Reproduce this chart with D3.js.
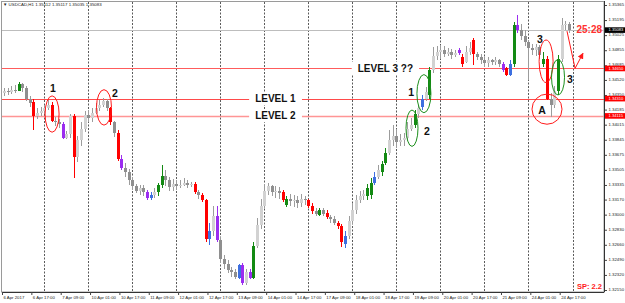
<!DOCTYPE html>
<html lang="en">
<head>
<meta charset="UTF-8">
<title>USDCAD H1</title>
<script src="https://d3js.org/d3.v7.min.js"></script>
<style>
  body { margin: 0; background: #fff; }
  svg { display: block; font-family: "Liberation Sans", Arial, sans-serif; }
  .axis text { font-size: 4.3px; fill: #222; }
  .axis line { stroke: #444; }
  .note { font-weight: bold; font-size: 10.5px; fill: #111; }
  .level-name { font-weight: bold; font-size: 10px; fill: #111; }
</style>
</head>
<body>
<svg id="chart" width="625" height="303"></svg>
<script>
  // ---- data (2-hour candles) ----
  const symbol = "USDCAD,H1";
  const lastBar = ["1.35112", "1.35117", "1.35035", "1.35083"];

  const opens = [
    1.3437, 1.3439, 1.3438, 1.3441, 1.3440, 1.3447, 1.3443, 1.3431, 1.3427, 1.3411,
    1.3415, 1.3417, 1.3420, 1.3424, 1.3406, 1.3404, 1.3402, 1.3387, 1.3391, 1.3411,
    1.3365, 1.3384, 1.3397, 1.3412, 1.3409, 1.3415, 1.3420, 1.3424, 1.3428, 1.3420,
    1.3404, 1.3392, 1.3363, 1.3353, 1.3348, 1.3339, 1.3332, 1.3327, 1.3330, 1.3325,
    1.3319, 1.3322, 1.3325, 1.3333, 1.3344, 1.3339, 1.3331, 1.3335, 1.3332, 1.3334,
    1.3336, 1.3333, 1.3335, 1.3325, 1.3322, 1.3316, 1.3273, 1.3282, 1.3299, 1.3271,
    1.3250, 1.3244, 1.3237, 1.3235, 1.3229, 1.3243, 1.3223, 1.3235, 1.3229, 1.3265,
    1.3288, 1.3310, 1.3327, 1.3332, 1.3325, 1.3327, 1.3326, 1.3311, 1.3318, 1.3315,
    1.3317, 1.3313, 1.3318, 1.3316, 1.3310, 1.3304, 1.3300, 1.3305, 1.3302, 1.3297,
    1.3295, 1.3291, 1.3287, 1.3267, 1.3276, 1.3293, 1.3305, 1.3316, 1.3321, 1.3321,
    1.3322, 1.3336, 1.3343, 1.3348, 1.3358, 1.3370, 1.3384, 1.3389, 1.3382, 1.3384,
    1.3386, 1.3397, 1.3401, 1.3413, 1.3421, 1.3431, 1.3435, 1.3463, 1.3479, 1.3483,
    1.3486, 1.3481, 1.3483, 1.3480, 1.3482, 1.3478, 1.3472, 1.3483, 1.3497, 1.3481,
    1.3478, 1.3474, 1.3471, 1.3474, 1.3472, 1.3474, 1.3470, 1.3465, 1.3458, 1.3470,
    1.3514, 1.3508, 1.3502, 1.3495, 1.3488, 1.3486, 1.3489, 1.3470, 1.3476, 1.3431,
    1.3424, 1.3440, 1.3476, 1.3514, 1.3515
  ];
  const highs = [
    1.3443, 1.3443, 1.3445, 1.3446, 1.3450, 1.3449, 1.3445, 1.3434, 1.3430, 1.3420,
    1.3421, 1.3424, 1.3429, 1.3427, 1.3410, 1.3408, 1.3404, 1.3394, 1.3414, 1.3413,
    1.3389, 1.3404, 1.3417, 1.3418, 1.3420, 1.3426, 1.3429, 1.3432, 1.3431, 1.3422,
    1.3406, 1.3395, 1.3367, 1.3358, 1.3351, 1.3343, 1.3335, 1.3333, 1.3333, 1.3328,
    1.3326, 1.3330, 1.3336, 1.3356, 1.3350, 1.3342, 1.3340, 1.3339, 1.3339, 1.3341,
    1.3339, 1.3337, 1.3337, 1.3328, 1.3324, 1.3318, 1.3291, 1.3310, 1.3310, 1.3275,
    1.3255, 1.3249, 1.3241, 1.3239, 1.3244, 1.3245, 1.3239, 1.3239, 1.3269, 1.3296,
    1.3318, 1.3335, 1.3336, 1.3334, 1.3332, 1.3331, 1.3328, 1.3321, 1.3323, 1.3322,
    1.3321, 1.3323, 1.3321, 1.3318, 1.3313, 1.3307, 1.3307, 1.3307, 1.3305, 1.3300,
    1.3298, 1.3293, 1.3289, 1.3282, 1.3299, 1.3313, 1.3322, 1.3327, 1.3328, 1.3335,
    1.3341, 1.3348, 1.3356, 1.3361, 1.3375, 1.3395, 1.3401, 1.3397, 1.3391, 1.3392,
    1.3404, 1.3409, 1.3418, 1.3424, 1.3435, 1.3444, 1.3467, 1.3489, 1.3490, 1.3491,
    1.3490, 1.3488, 1.3487, 1.3486, 1.3488, 1.3481, 1.3490, 1.3495, 1.3499, 1.3483,
    1.3481, 1.3478, 1.3478, 1.3476, 1.3478, 1.3476, 1.3472, 1.3467, 1.3474, 1.3517,
    1.3525, 1.3515, 1.3508, 1.3497, 1.3493, 1.3493, 1.3491, 1.3483, 1.3479, 1.3437,
    1.3445, 1.3480, 1.3522, 1.3519, 1.3517
  ];
  const lows = [
    1.3434, 1.3435, 1.3436, 1.3437, 1.3439, 1.3438, 1.3428, 1.3422, 1.3395, 1.3408,
    1.3411, 1.3413, 1.3418, 1.3404, 1.3400, 1.3398, 1.3385, 1.3385, 1.3386, 1.3341,
    1.3359, 1.3378, 1.3393, 1.3404, 1.3405, 1.3413, 1.3417, 1.3421, 1.3417, 1.3401,
    1.3388, 1.3361, 1.3350, 1.3343, 1.3334, 1.3328, 1.3324, 1.3322, 1.3321, 1.3317,
    1.3317, 1.3319, 1.3321, 1.3330, 1.3332, 1.3327, 1.3327, 1.3328, 1.3330, 1.3332,
    1.3330, 1.3331, 1.3323, 1.3318, 1.3314, 1.3269, 1.3266, 1.3276, 1.3269, 1.3246,
    1.3239, 1.3234, 1.3230, 1.3227, 1.3227, 1.3221, 1.3221, 1.3227, 1.3227, 1.3262,
    1.3284, 1.3307, 1.3322, 1.3321, 1.3319, 1.3318, 1.3314, 1.3309, 1.3310, 1.3309,
    1.3308, 1.3309, 1.3311, 1.3308, 1.3301, 1.3298, 1.3298, 1.3298, 1.3295, 1.3291,
    1.3288, 1.3284, 1.3263, 1.3262, 1.3273, 1.3290, 1.3301, 1.3313, 1.3317, 1.3317,
    1.3318, 1.3333, 1.3340, 1.3344, 1.3356, 1.3367, 1.3378, 1.3375, 1.3377, 1.3378,
    1.3383, 1.3394, 1.3398, 1.3409, 1.3418, 1.3428, 1.3431, 1.3460, 1.3474, 1.3476,
    1.3478, 1.3479, 1.3476, 1.3478, 1.3480, 1.3466, 1.3471, 1.3480, 1.3469, 1.3474,
    1.3470, 1.3466, 1.3467, 1.3469, 1.3469, 1.3466, 1.3461, 1.3456, 1.3456, 1.3467,
    1.3505, 1.3497, 1.3490, 1.3452, 1.3480, 1.3479, 1.3476, 1.3466, 1.3429, 1.3410,
    1.3420, 1.3435, 1.3472, 1.3508, 1.3505
  ];
  const closes = [
    1.3439, 1.3438, 1.3441, 1.3440, 1.3447, 1.3443, 1.3431, 1.3426, 1.3411, 1.3415,
    1.3417, 1.3420, 1.3424, 1.3406, 1.3404, 1.3402, 1.3387, 1.3391, 1.3411, 1.3365,
    1.3384, 1.3397, 1.3412, 1.3409, 1.3415, 1.3420, 1.3424, 1.3428, 1.3420, 1.3404,
    1.3392, 1.3363, 1.3353, 1.3348, 1.3339, 1.3332, 1.3327, 1.3330, 1.3325, 1.3319,
    1.3322, 1.3325, 1.3333, 1.3344, 1.3339, 1.3331, 1.3335, 1.3332, 1.3334, 1.3336,
    1.3333, 1.3335, 1.3325, 1.3322, 1.3316, 1.3273, 1.3282, 1.3299, 1.3271, 1.3250,
    1.3244, 1.3237, 1.3235, 1.3230, 1.3243, 1.3223, 1.3235, 1.3229, 1.3265, 1.3288,
    1.3310, 1.3327, 1.3332, 1.3325, 1.3327, 1.3324, 1.3316, 1.3318, 1.3315, 1.3317,
    1.3313, 1.3318, 1.3316, 1.3310, 1.3304, 1.3301, 1.3305, 1.3301, 1.3297, 1.3295,
    1.3291, 1.3287, 1.3269, 1.3276, 1.3293, 1.3305, 1.3316, 1.3321, 1.3323, 1.3330,
    1.3336, 1.3343, 1.3350, 1.3357, 1.3370, 1.3384, 1.3389, 1.3382, 1.3384, 1.3386,
    1.3397, 1.3401, 1.3413, 1.3420, 1.3431, 1.3438, 1.3463, 1.3479, 1.3483, 1.3486,
    1.3481, 1.3483, 1.3480, 1.3482, 1.3486, 1.3470, 1.3483, 1.3488, 1.3481, 1.3478,
    1.3474, 1.3471, 1.3474, 1.3472, 1.3474, 1.3470, 1.3463, 1.3458, 1.3470, 1.3514,
    1.3508, 1.3502, 1.3495, 1.3488, 1.3486, 1.3489, 1.3480, 1.3476, 1.3431, 1.3424,
    1.3440, 1.3476, 1.3514, 1.3515, 1.3508
  ];

  // bars flagged by the colour-candle indicator
  const redBars = [8, 13, 19, 29, 31, 52, 54, 55, 76, 83, 84, 88, 91, 92, 125, 128, 137, 148];
  const greenBars = [4, 42, 43, 68, 77, 86, 99, 100, 103, 104, 112, 116, 139, 147, 151];
  const blueBars = [40, 56, 64, 93, 101, 114, 138];
  const purpleBars = [16, 32, 39, 58, 65, 67, 124, 136, 140];

  const timeLabels = [
    "6 Apr 2017", "6 Apr 17:00", "7 Apr 09:00", "10 Apr 01:00", "10 Apr 17:00",
    "11 Apr 09:00", "12 Apr 01:00", "12 Apr 17:00", "13 Apr 09:00", "14 Apr 01:00",
    "14 Apr 17:00", "17 Apr 09:00", "18 Apr 01:00", "18 Apr 17:00", "19 Apr 09:00",
    "20 Apr 01:00", "20 Apr 17:00", "21 Apr 09:00", "24 Apr 01:00", "24 Apr 17:00"
  ];
  const priceTicks = [
    1.35365, 1.35195, 1.35025, 1.34855, 1.34685, 1.34520, 1.34350, 1.34185, 1.34015, 1.33845,
    1.33675, 1.33505, 1.33335, 1.33170, 1.33000, 1.32830, 1.32660, 1.32490, 1.32320, 1.32150
  ];

  const levelNames = ["LEVEL 3 ??", "LEVEL 1", "LEVEL 2"];
  const levelPrices = [1.34650, 1.34310, 1.34115];
  const currentPrice = 1.35083;
  const barTimer = "25:28";
  const spread = "SP: 2.2";

  // ---- scales (x in trading hours from 6 Apr 01:00) ----
  const svg = d3.select("#chart");
  const right = 604, bottom = 292;
  const x = d3.scaleLinear().domain([0, 328]).range([2, 603.7]);
  const y = d3.scaleLinear().domain([1.32150, 1.35365]).range([290, 5]);

  const RED = "#ff1a1a", GREEN = "#1d8f1d";
  const tagColor = new Map();
  redBars.forEach(i => tagColor.set(i, "#ff0000"));
  greenBars.forEach(i => tagColor.set(i, "#138a13"));
  blueBars.forEach(i => tagColor.set(i, "#3d6fe0"));
  purpleBars.forEach(i => tagColor.set(i, "#9b2cf0"));

  // frame
  svg.append("rect")
    .attr("x", 1.5).attr("y", 1.5)
    .attr("width", right - 1.5).attr("height", bottom - 1.5)
    .attr("fill", "#fff").attr("stroke", "#9a9a9a");

  // day separators (midnight)
  svg.append("g").selectAll("line")
    .data(d3.range(23, 328, 24))
    .join("line")
      .attr("x1", d => Math.round(x(d)) + 0.5).attr("x2", d => Math.round(x(d)) + 0.5)
      .attr("y1", 2).attr("y2", bottom)
      .attr("stroke", "#5a5a5a").attr("stroke-width", 1)
      .attr("stroke-dasharray", "2,1.5");

  // current price line
  svg.append("line")
    .attr("x1", 2).attr("x2", right)
    .attr("y1", Math.round(y(currentPrice)) + 0.5).attr("y2", Math.round(y(currentPrice)) + 0.5)
    .attr("stroke", "#bdbdbd");

  // horizontal levels
  const levelStyle = [
    { color: "#ff5c5c", width: 1, hour: 209 },
    { color: "#ff4a4a", width: 1, hour: 149 },
    { color: "#ff9595", width: 1.6, hour: 149 }
  ];
  const levels = svg.append("g");
  levelNames.forEach((name, k) => {
    const ly = Math.round(y(levelPrices[k])) + 0.5;
    levels.append("line")
      .attr("x1", 2).attr("x2", right).attr("y1", ly).attr("y2", ly)
      .attr("stroke", levelStyle[k].color).attr("stroke-width", levelStyle[k].width);
  });

  // candles
  const bars = closes.map((c, i) => ({
    i, c, o: opens[i], h: highs[i], l: lows[i], hour: 2 * i + 1, tag: tagColor.get(i)
  }));
  const candles = svg.append("g").attr("shape-rendering", "crispEdges");
  candles.selectAll("line")
    .data(bars)
    .join("line")
      .attr("x1", d => Math.round(x(d.hour)) + 0.5).attr("x2", d => Math.round(x(d.hour)) + 0.5)
      .attr("y1", d => y(d.h)).attr("y2", d => y(d.l))
      .attr("stroke", d => d.tag || "#9c9c9c");
  candles.selectAll("rect")
    .data(bars)
    .join("rect")
      .attr("x", d => Math.round(x(d.hour)) - 1)
      .attr("width", 3)
      .attr("y", d => y(Math.max(d.o, d.c)))
      .attr("height", d => Math.max(1, Math.abs(y(d.o) - y(d.c))))
      .attr("fill", d => d.tag || (d.c >= d.o ? "#d2d2d2" : "#8f8f8f"));

  // level names on white patches
  levelNames.forEach((name, k) => {
    const t = levels.append("text")
      .attr("class", "level-name")
      .attr("x", x(levelStyle[k].hour)).attr("y", y(levelPrices[k]))
      .attr("text-anchor", "middle").attr("dominant-baseline", "central")
      .text(name);
    const b = t.node().getBBox();
    levels.insert("rect", () => t.node())
      .attr("x", b.x - 6).attr("y", b.y - 1)
      .attr("width", b.width + 12).attr("height", b.height + 2)
      .attr("fill", "#fff");
  });

  // annotations
  const ellipses = [
    { hour: 27.3, hi: 1.3434, lo: 1.3393, rx: 7, color: RED },
    { hour: 55.6, hi: 1.3441, lo: 1.3401, rx: 7.5, color: RED },
    { hour: 223.5, hi: 1.3418, lo: 1.3377, rx: 6, color: GREEN },
    { hour: 230, hi: 1.3458, lo: 1.3415, rx: 7, color: GREEN },
    { hour: 296.6, hi: 1.3497, lo: 1.3449, rx: 7, color: RED },
    { hour: 303.1, hi: 1.3475, lo: 1.3435, rx: 6.5, color: GREEN },
    { hour: 297.1, hi: 1.3436, lo: 1.3402, rx: 15, color: RED }
  ];
  svg.append("g").selectAll("ellipse")
    .data(ellipses)
    .join("ellipse")
      .attr("cx", d => x(d.hour))
      .attr("cy", d => (y(d.hi) + y(d.lo)) / 2)
      .attr("rx", d => d.rx)
      .attr("ry", d => (y(d.lo) - y(d.hi)) / 2)
      .attr("fill", "none").attr("stroke", d => d.color).attr("stroke-width", 1);

  const marks = [
    { t: "1", hour: 27.8, p: 1.3443 }, { t: "2", hour: 61.6, p: 1.3437 },
    { t: "1", hour: 223, p: 1.3438 }, { t: "2", hour: 231.7, p: 1.3394 },
    { t: "3", hour: 293.3, p: 1.3498 }, { t: "3", hour: 309.6, p: 1.3453 },
    { t: "A", hour: 294.4, p: 1.3418 }
  ];
  svg.append("g").selectAll("text")
    .data(marks)
    .join("text")
      .attr("class", "note")
      .attr("x", d => x(d.hour)).attr("y", d => y(d.p))
      .attr("text-anchor", "middle").attr("dominant-baseline", "central")
      .text(d => d.t);

  // arrow
  svg.append("defs").append("marker")
    .attr("id", "head").attr("viewBox", "0 0 10 10")
    .attr("refX", 9).attr("refY", 5)
    .attr("markerWidth", 6).attr("markerHeight", 6)
    .attr("orient", "auto")
    .append("path").attr("d", "M0,0 L10,5 L0,10 z").attr("fill", RED);
  const arrowPts = [[308, 1.3507], [312.4, 1.3465], [316.7, 1.3482]];
  svg.append("path")
    .attr("d", d3.line().x(d => x(d[0])).y(d => y(d[1]))(arrowPts))
    .attr("fill", "none").attr("stroke", RED).attr("stroke-width", 1)
    .attr("marker-end", "url(#head)");

  // time axis
  svg.append("g")
    .attr("class", "axis")
    .attr("transform", `translate(0,${bottom})`)
    .call(d3.axisBottom(x)
      .tickValues(timeLabels.map((_, k) => k * 16))
      .tickFormat((d, k) => timeLabels[k])
      .tickSize(3).tickSizeOuter(0))
    .call(g => g.select(".domain").attr("stroke", "#333"))
    .call(g => g.selectAll("text").attr("text-anchor", "start").attr("x", 1).attr("y", 4));

  // price axis
  svg.append("g")
    .attr("class", "axis")
    .attr("transform", `translate(${right},0)`)
    .call(d3.axisRight(y)
      .tickValues(priceTicks)
      .tickFormat(d3.format(".5f"))
      .tickSize(3))
    .call(g => g.select(".domain").remove())
    .call(g => g.selectAll("text").attr("x", 4.5).attr("y", -0.9));
  svg.append("line")
    .attr("x1", right + 0.5).attr("x2", right + 0.5).attr("y1", 1).attr("y2", bottom)
    .attr("stroke", "#333");

  // price tags on the axis
  const tags = levelPrices.map(p => ({ p, bg: "#ff0000" }))
    .concat([{ p: currentPrice, bg: "#000" }]);
  const tagG = svg.append("g");
  tags.forEach(d => {
    tagG.append("rect")
      .attr("x", right + 1).attr("y", y(d.p) - 2.7)
      .attr("width", 21).attr("height", 5.6)
      .attr("fill", d.bg);
    tagG.append("text")
      .attr("x", right + 4.5).attr("y", y(d.p) + 1.5)
      .attr("font-size", "4.1px").attr("fill", "#fff")
      .text(d3.format(".5f")(d.p));
  });

  // header, timer, spread
  svg.append("text")
    .attr("x", 3).attr("y", 6.3)
    .attr("font-size", "4.4px").attr("fill", "#222")
    .text(`\u25BC ${symbol}  ${lastBar.join(" ")}`);

  svg.append("text")
    .attr("x", 602).attr("y", y(currentPrice))
    .attr("text-anchor", "end").attr("dominant-baseline", "central")
    .attr("font-weight", "bold").attr("font-size", "10px").attr("fill", "#ff3030")
    .text(barTimer);

  svg.append("text")
    .attr("x", 602).attr("y", 289)
    .attr("text-anchor", "end")
    .attr("font-weight", "bold").attr("font-size", "7.5px").attr("fill", "#ff1a1a")
    .text(spread);
</script>
</body>
</html>
